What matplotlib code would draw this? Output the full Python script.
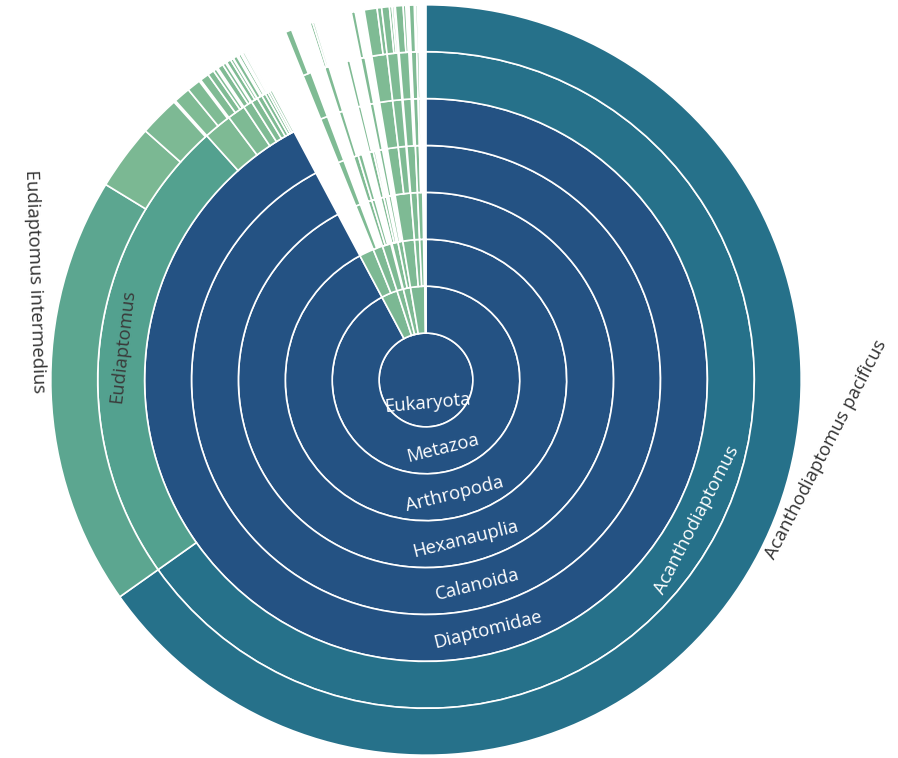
import math
import matplotlib
matplotlib.use("Agg")
import matplotlib.pyplot as plt
from matplotlib.patches import Wedge
from matplotlib.colors import LinearSegmentedColormap

# ---------------- data (plotly-style sunburst, branchvalues = total) ----------------
labels = [
    "Eukaryota",
    "Metazoa", "Arthropoda", "Hexanauplia", "Calanoida", "Diaptomidae",
    "Acanthodiaptomus", "Acanthodiaptomus pacificus",
    "Eudiaptomus", "Eudiaptomus intermedius", "Eudiaptomus gracilis", "Eudiaptomus graciloides",
    "Arctodiaptomus", "Arctodiaptomus bacillifer", "Arctodiaptomus alpinus",
    "Mixodiaptomus", "Mixodiaptomus kupelwieseri", "Mixodiaptomus laciniatus", "Mixodiaptomus tatricus",
    "Hemidiaptomus", "Hemidiaptomus amblyodon", "Hemidiaptomus ingens",
    "Diaptomus", "Diaptomus castor", "Diaptomus cyaneus",
    "Neolovenula", "Neolovenula alluaudi",
    "Copidodiaptomus", "Copidodiaptomus numidicus", "Copidodiaptomus steueri",
    "Paradiaptomus", "Paradiaptomus africanus",
    "Heliodiaptomus", "Heliodiaptomus viduus",
    "Megadiaptomus",
    "Viridiplantae", "Chlorophyta", "Streptophyta", "Embryophyta", "Tracheophyta",
    "Magnoliopsida", "Poales", "Poaceae sp.",
    "Stramenopiles", "Ochrophyta", "Bacillariophyta", "Bacillariophyceae", "Naviculales",
    "Naviculaceae", "Navicula sp.", "Navicula radiosa", "Chrysophyceae", "Chromulinales",
    "Alveolata", "Ciliophora", "Oligohymenophorea", "Peniculida", "Parameciidae", "Paramecium",
    "Spirotrichea", "Stichotrichida",
    "Dinoflagellata", "Dinophyceae", "Peridiniales", "Peridiniaceae", "Peridinium", "Peridinium willei",
    "Fungi", "Ascomycota", "Pezizomycotina", "Sordariomycetes", "Hypocreales", "Nectriaceae",
    "Fusarium sp.", "Fusarium oxysporum", "Dothideomycetes", "Pleosporales", "Pleosporaceae",
    "Alternaria sp.", "Alternaria alternata", "Pleospora sp.",
    "Basidiomycota", "Agaricomycotina", "Agaricomycetes", "Agaricales", "Agaricaceae",
    "Agaricus sp.", "Coprinus sp.",
    "Chytridiomycota", "Chytridiomycetes", "Chytridiales", "Chytridiaceae", "Chytridium",
    "Chytridium sp.", "Rhizophydiales", "Rhizophydiaceae", "Rhizophydium", "Rhizophydium sp.",
    "Cryptophyta", "Cryptophyceae",
]
parents = [
    "",
    "Eukaryota", "Metazoa", "Arthropoda", "Hexanauplia", "Calanoida",
    "Diaptomidae", "Acanthodiaptomus",
    "Diaptomidae", "Eudiaptomus", "Eudiaptomus", "Eudiaptomus",
    "Diaptomidae", "Arctodiaptomus", "Arctodiaptomus",
    "Diaptomidae", "Mixodiaptomus", "Mixodiaptomus", "Mixodiaptomus",
    "Diaptomidae", "Hemidiaptomus", "Hemidiaptomus",
    "Diaptomidae", "Diaptomus", "Diaptomus",
    "Diaptomidae", "Neolovenula",
    "Diaptomidae", "Copidodiaptomus", "Copidodiaptomus",
    "Diaptomidae", "Paradiaptomus",
    "Diaptomidae", "Heliodiaptomus",
    "Diaptomidae",
    "Eukaryota", "Viridiplantae", "Viridiplantae", "Streptophyta", "Embryophyta",
    "Tracheophyta", "Magnoliopsida", "Poales",
    "Eukaryota", "Stramenopiles", "Ochrophyta", "Bacillariophyta", "Bacillariophyceae",
    "Naviculales", "Naviculaceae", "Naviculaceae", "Ochrophyta", "Chrysophyceae",
    "Eukaryota", "Alveolata", "Ciliophora", "Oligohymenophorea", "Peniculida", "Parameciidae",
    "Ciliophora", "Spirotrichea",
    "Alveolata", "Dinoflagellata", "Dinophyceae", "Peridiniales", "Peridiniaceae", "Peridinium",
    "Eukaryota", "Fungi", "Ascomycota", "Pezizomycotina", "Sordariomycetes", "Hypocreales",
    "Nectriaceae", "Nectriaceae", "Pezizomycotina", "Dothideomycetes", "Pleosporales",
    "Pleosporaceae", "Pleosporaceae", "Pleosporaceae",
    "Fungi", "Basidiomycota", "Agaricomycotina", "Agaricomycetes", "Agaricales",
    "Agaricaceae", "Agaricaceae",
    "Fungi", "Chytridiomycota", "Chytridiomycetes", "Chytridiales", "Chytridiaceae",
    "Chytridium", "Chytridiomycetes", "Rhizophydiales", "Rhizophydiaceae", "Rhizophydium",
    "Eukaryota", "Cryptophyta",
]
values = [
    3600,
    3320, 3320, 3320, 3320, 3320,
    2347, 2347,
    834, 667, 102, 62,
    50, 26, 21,
    32, 14, 10, 5,
    16, 9, 5,
    12, 7, 4,
    9, 6,
    7, 4, 2,
    5, 3,
    4, 2,
    4,
    100, 60, 40, 15, 15,
    15, 15, 10,
    40, 35, 12, 12, 8,
    8, 4, 3, 10, 10,
    45, 25, 10, 10, 6, 6,
    8, 5,
    20, 8, 8, 8, 8, 6,
    88, 48, 48, 27, 27, 27,
    20, 7, 19, 19, 19,
    12, 4, 3,
    21, 21, 21, 17, 17,
    12, 4,
    16, 16, 10, 10, 10,
    8, 4, 4, 4, 3,
    7, 7,
]

# ---------------- layout ----------------
W, H = 898, 758
CX, CY = 426, 380
RING = 46.9
LABEL_MIN_SPAN = 30.0   # degrees

cmap = LinearSegmentedColormap.from_list(
    "taxa",
    [(0.0, "#80bb94"), (0.23, "#53a18f"), (0.65, "#26718a"),
     (0.92, "#245283"), (1.0, "#245182")])

children = {}
for lab, par in zip(labels, parents):
    children.setdefault(par, []).append(lab)
val = dict(zip(labels, values))
root = labels[parents.index("")]
total = val[root]

nodes = []  # (label, depth, a0, a1)


def layout(lab, depth, a0):
    span = val[lab] / total * 360.0
    nodes.append((lab, depth, a0, a0 + span))
    a = a0
    for ch in children.get(lab, []):
        layout(ch, depth + 1, a)
        a += val[ch] / total * 360.0


layout(root, 0, 0.0)
max_depth = max(n[1] for n in nodes)

fig = plt.figure(figsize=(W / 100, H / 100), dpi=100)
ax = fig.add_axes([0, 0, 1, 1])
ax.set_xlim(0, W)
ax.set_ylim(H, 0)
ax.axis("off")

FONT = ["Open Sans", "DejaVu Sans"]
FS = 13.3


def pos(r, th):
    t = math.radians(th)
    return CX + r * math.sin(t), CY - r * math.cos(t)


for lab, depth, a0, a1 in nodes:
    frac = val[lab] / total
    col = cmap(frac)
    if depth == 0:
        w = Wedge((CX, CY), RING, a0 - 90, a1 - 90, facecolor=col,
                  edgecolor="white", linewidth=1.2)
    else:
        w = Wedge((CX, CY), RING * (depth + 1), a0 - 90, a1 - 90, width=RING,
                  facecolor=col, edgecolor="white", linewidth=1.2)
    ax.add_patch(w)

for lab, depth, a0, a1 in nodes:
    span = a1 - a0
    if span < LABEL_MIN_SPAN:
        continue
    frac = val[lab] / total
    mid = (a0 + a1) / 2.0
    rot = -mid
    while rot <= -90:
        rot += 180
    while rot > 90:
        rot -= 180
    if depth == 0:
        x, y = pos(RING * 0.5, 176)
        ax.text(x, y, lab, rotation=5, ha="center", va="center",
                rotation_mode="anchor", color="white", fontsize=FS, family=FONT)
    elif depth == max_depth:
        x, y = pos(RING * (depth + 1) + 3, mid)
        dy = math.sin(math.radians(rot))
        ha = "left" if dy > 0 else "right"
        ax.text(x, y, lab, rotation=rot, ha=ha, va="top",
                rotation_mode="anchor", color="#333333", fontsize=FS, family=FONT)
    else:
        x, y = pos(RING * (depth + 0.5), mid)
        tc = "white" if frac > 0.4 else "#3a3a3a"
        ax.text(x, y, lab, rotation=rot, ha="center", va="center",
                rotation_mode="anchor", color=tc, fontsize=FS, family=FONT)

fig.savefig("out.png", dpi=100, facecolor="white")
